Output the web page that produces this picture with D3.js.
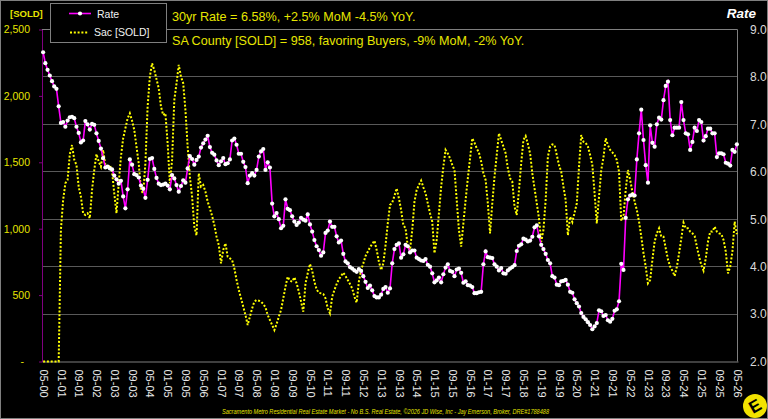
<!DOCTYPE html>
<html>
<head>
<meta charset="utf-8">
<style>
  html, body { margin: 0; padding: 0; background: #000; }
  svg { display: block; font-family: "Liberation Sans", Arial, sans-serif; }
</style>
</head>
<body>
<svg id="chart" width="768" height="419"></svg>
<script src="https://cdn.jsdelivr.net/npm/d3@7/dist/d3.min.js"></script>
<script>
  // 30yr rate, monthly, 05-00 .. 05-26
  const rate = [
    8.52, 8.29, 8.15, 8.03, 7.91, 7.80, 7.75, 7.38,
    7.03, 7.05, 6.95, 7.08, 7.15, 7.16, 7.13, 6.95, 6.82, 6.62, 6.66, 7.07,
    7.00, 6.89, 7.01, 6.99, 6.81, 6.65, 6.49, 6.29, 6.09, 6.11, 6.07, 6.05,
    5.92, 5.84, 5.75, 5.81, 5.48, 5.23, 5.63, 6.26, 6.15, 5.95, 5.93, 5.88,
    5.71, 5.64, 5.45, 5.83, 6.27, 6.29, 6.06, 5.87, 5.75, 5.72, 5.73, 5.75,
    5.71, 5.63, 5.93, 5.86, 5.72, 5.58, 5.70, 5.82, 5.77, 6.07, 6.33, 6.27,
    6.15, 6.25, 6.32, 6.51, 6.60, 6.68, 6.76, 6.52, 6.40, 6.36, 6.24, 6.14,
    6.22, 6.29, 6.16, 6.18, 6.26, 6.66, 6.70, 6.57, 6.38, 6.38, 6.21, 6.10,
    5.76, 5.92, 5.97, 5.92, 6.04, 6.32, 6.43, 6.48, 6.04, 6.20, 6.09, 5.33,
    5.06, 5.13, 5.00, 4.81, 4.86, 5.42, 5.22, 5.19, 5.06, 4.95, 4.88, 4.93,
    5.03, 4.99, 4.97, 5.10, 4.89, 4.74, 4.56, 4.43, 4.35, 4.23, 4.30, 4.71,
    4.76, 4.95, 4.84, 4.84, 4.64, 4.51, 4.55, 4.27, 4.11, 4.07, 3.99, 3.96,
    3.92, 3.89, 3.95, 3.91, 3.80, 3.68, 3.55, 3.60, 3.50, 3.38, 3.35, 3.35,
    3.41, 3.53, 3.57, 3.45, 3.54, 4.07, 4.37, 4.46, 4.49, 4.19, 4.26, 4.46,
    4.43, 4.30, 4.34, 4.34, 4.19, 4.16, 4.13, 4.12, 4.16, 4.04, 4.00, 3.86,
    3.67, 3.71, 3.77, 3.67, 3.84, 3.98, 4.05, 3.91, 3.89, 3.80, 3.94, 3.96,
    3.87, 3.66, 3.69, 3.61, 3.60, 3.57, 3.44, 3.44, 3.46, 3.47, 4.05, 4.32,
    4.20, 4.19, 4.18, 4.05, 4.00, 3.92, 3.97, 3.86, 3.85, 3.92, 3.96, 3.99,
    4.03, 4.33, 4.44, 4.47, 4.59, 4.57, 4.53, 4.55, 4.63, 4.83, 4.87, 4.64,
    4.46, 4.37, 4.27, 4.14, 4.07, 3.80, 3.77, 3.62, 3.61, 3.69, 3.70, 3.72,
    3.62, 3.47, 3.45, 3.31, 3.23, 3.16, 3.02, 2.94, 2.89, 2.83, 2.77, 2.68,
    2.74, 2.81, 3.08, 3.06, 2.96, 2.98, 2.87, 2.84, 2.90, 3.07, 3.10, 3.27,
    4.06, 3.93, 5.03, 5.42, 5.50, 5.52, 5.50, 6.26, 6.81, 7.31, 6.67, 6.14,
    5.77, 6.98, 6.61, 6.53, 7.00, 7.14, 7.10, 7.51, 7.81, 7.90, 7.09, 6.77,
    6.93, 6.93, 6.93, 7.47, 7.09, 6.81, 6.79, 6.46, 6.63, 6.93, 6.86, 7.09,
    7.05, 6.66, 6.75, 6.91, 6.91, 6.81, 6.81, 6.31, 6.39, 6.39, 6.37, 6.19,
    6.17, 6.13, 6.46, 6.42, 6.58
  ];

  // Sacramento County homes sold, monthly, 05-00 .. 05-26
  const sold = [
    0, 0, 0, 0, 0, 0, 0, 0,
    990, 1216, 1342, 1367, 1560, 1630, 1520, 1480, 1316, 1241, 1116, 1103,
    1116, 1078, 1291, 1442, 1562, 1505, 1467, 1593, 1480, 1455, 1480, 1430,
    1266, 1116, 1342, 1542, 1680, 1756, 1831, 1869, 1813, 1743, 1618, 1492,
    1291, 1266, 1492, 1919, 2145, 2245, 2195, 2125, 2057, 1919, 1856, 1869,
    1643, 1342, 1517, 1969, 2095, 2233, 2145, 2095, 1894, 1618, 1392, 1241,
    1015, 950, 1417, 1316, 1329, 1279, 1204, 1153, 1096, 1028, 940, 877,
    739, 840, 890, 789, 777, 764, 701, 614, 538, 476, 413, 350,
    275, 338, 400, 451, 463, 458, 451, 433, 408, 350, 312, 275,
    237, 282, 338, 388, 476, 563, 639, 609, 601, 634, 589, 526,
    451, 375, 589, 664, 734, 684, 601, 543, 518, 513, 508, 476,
    400, 363, 488, 538, 583, 619, 644, 669, 644, 614, 583, 551,
    488, 443, 601, 689, 739, 794, 827, 860, 885, 910, 840, 752,
    689, 739, 877, 1040, 1178, 1196, 1246, 1304, 1229, 1141, 1028, 1003,
    865, 840, 990, 1204, 1291, 1329, 1362, 1312, 1266, 1191, 1116, 1053,
    815, 915, 1116, 1316, 1467, 1593, 1567, 1530, 1480, 1442, 1216, 990,
    865, 1040, 1216, 1379, 1530, 1680, 1648, 1605, 1572, 1505, 1417, 1367,
    1191, 965, 1191, 1392, 1555, 1718, 1668, 1618, 1568, 1455, 1379, 1354,
    1166, 1103, 1291, 1492, 1668, 1698, 1638, 1567, 1417, 1304, 1191, 1078,
    902, 990, 1216, 1542, 1618, 1635, 1630, 1555, 1480, 1429, 1316, 1216,
    950, 1090, 1050, 1120, 1191, 1467, 1705, 1655, 1648, 1618, 1555, 1480,
    1266, 1040, 1241, 1442, 1537, 1680, 1630, 1593, 1575, 1555, 1517, 1429,
    1060, 1090, 1291, 1442, 1367, 1279, 1204, 1141, 1053, 940, 815, 714,
    589, 614, 764, 902, 965, 1003, 940, 940, 852, 769, 714, 684,
    644, 714, 815, 927, 1045, 1003, 1003, 978, 965, 945, 865, 790,
    727, 684, 777, 902, 978, 978, 1015, 978, 965, 960, 915, 827,
    664, 714, 830, 1053, 958
  ];

  const tickLabels = ['05-00','01-01','09-01','05-02','01-03','09-03','05-04','01-05','09-05','05-06',
    '01-07','09-07','05-08','01-09','09-09','05-10','01-11','09-11','05-12','01-13',
    '09-13','05-14','01-15','09-15','05-16','01-17','09-17','05-18','01-19','09-19',
    '05-20','01-21','09-21','05-22','01-23','09-23','05-24','01-25','09-25','05-26'];
  const soldTicks = [0, 500, 1000, 1500, 2000, 2500];
  const rateTicks = [2, 3, 4, 5, 6, 7, 8, 9];

  // month categories MM-YY starting at May 2000
  const months = rate.map((d, i) => {
    const m = (4 + i) % 12 + 1, y = Math.floor((4 + i) / 12);
    return String(m).padStart(2, '0') + '-' + String(y).padStart(2, '0');
  });

  const yellow = '#ffff00';
  const textYellow = '#e6e600';

  const svg = d3.select('#chart');
  const plotLeft = 42, plotRight = 738, plotTop = 29.5, plotBottom = 361.5;

  const x = d3.scalePoint().domain(months).range([plotLeft, plotRight]).padding(0.5);
  const ySold = d3.scaleLinear().domain([0, 2500]).range([plotBottom, plotTop]);
  const yRate = d3.scaleLinear().domain([2, 9]).range([plotBottom, plotTop]);

  // outer frame
  svg.append('rect')
    .attr('x', 0.5).attr('y', 0.5).attr('width', 767).attr('height', 418)
    .attr('fill', '#000').attr('stroke', '#7f7f7f');

  // gridlines
  svg.append('g').selectAll('line')
    .data(rateTicks.slice(1, -1))
    .join('line')
    .attr('x1', plotLeft).attr('x2', plotRight)
    .attr('y1', d => Math.floor(yRate(d)) + 0.5)
    .attr('y2', d => Math.floor(yRate(d)) + 0.5)
    .attr('stroke', '#595959').attr('stroke-width', 1);

  // plot border (top + right)
  svg.append('path')
    .attr('d', `M${plotLeft},${plotTop}H${plotRight - 0.5}V${plotBottom}`)
    .attr('fill', 'none').attr('stroke', '#7f7f7f');

  // bottom axis
  const xAxis = d3.axisBottom(x).tickValues(tickLabels).tickSize(0).tickSizeOuter(0);
  const gx = svg.append('g').attr('transform', `translate(0,${plotBottom})`).call(xAxis);
  gx.select('.domain').attr('stroke', '#7f7f7f');
  gx.selectAll('text')
    .attr('transform', 'rotate(90)')
    .attr('x', 8).attr('y', 0).attr('dy', '0.35em')
    .style('text-anchor', 'start')
    .attr('fill', '#e8e8e8')
    .attr('font-size', 11)
    .attr('font-family', '"Liberation Sans", Arial, sans-serif');

  // left axis (sold)
  const yAxisL = d3.axisLeft(ySold).tickValues(soldTicks).tickSize(3).tickSizeOuter(0).tickPadding(9)
    .tickFormat(d => d === 0 ? '-' : d3.format(',')(d));
  const gl = svg.append('g').attr('transform', `translate(${plotLeft},0)`).call(yAxisL);
  gl.select('.domain').attr('stroke', '#800080');
  gl.selectAll('.tick line').attr('stroke', '#800080');
  gl.selectAll('text')
    .attr('fill', textYellow).attr('font-size', 10.5)
    .attr('font-family', '"Liberation Sans", Arial, sans-serif')
    .attr('dx', d => d === 0 ? -6 : 0);

  // right axis (rate)
  const yAxisR = d3.axisRight(yRate).tickValues(rateTicks).tickSize(0).tickPadding(12)
    .tickFormat(d3.format('.1f'));
  const gr = svg.append('g').attr('transform', `translate(${plotRight},0)`).call(yAxisR);
  gr.select('.domain').remove();
  gr.selectAll('text')
    .attr('fill', '#d9d9d9').attr('font-size', 12)
    .attr('font-family', '"Liberation Sans", Arial, sans-serif');

  // sold series, dotted yellow
  const soldLine = d3.line().x((d, i) => x(months[i])).y(d => ySold(d));
  svg.append('path')
    .datum(sold)
    .attr('d', soldLine)
    .attr('fill', 'none')
    .attr('stroke', yellow)
    .attr('stroke-width', 2)
    .attr('stroke-dasharray', '2,1.8');

  // rate series, magenta with white markers
  const rateLine = d3.line().x((d, i) => x(months[i])).y(d => yRate(d));
  svg.append('path')
    .datum(rate)
    .attr('d', rateLine)
    .attr('fill', 'none')
    .attr('stroke', '#ff00ff')
    .attr('stroke-width', 1.6);

  svg.append('g').selectAll('circle')
    .data(rate)
    .join('circle')
    .attr('cx', (d, i) => x(months[i]))
    .attr('cy', d => yRate(d))
    .attr('r', 2.1)
    .attr('fill', '#ffffff');

  // legend
  const lg = svg.append('g');
  lg.append('rect')
    .attr('x', 50.5).attr('y', 3.5).attr('width', 116).attr('height', 39)
    .attr('fill', '#000').attr('stroke', '#7f7f7f');
  lg.append('line')
    .attr('x1', 69).attr('x2', 91).attr('y1', 13.5).attr('y2', 13.5)
    .attr('stroke', '#ff00ff').attr('stroke-width', 1.6);
  lg.append('circle').attr('cx', 80).attr('cy', 13.5).attr('r', 2.1).attr('fill', '#fff');
  lg.append('line')
    .attr('x1', 70).attr('x2', 89).attr('y1', 32.5).attr('y2', 32.5)
    .attr('stroke', yellow).attr('stroke-width', 2).attr('stroke-dasharray', '2,1.8');
  lg.append('text').attr('x', 97).attr('y', 17.5).text('Rate')
    .attr('fill', '#f2f2f2').attr('font-size', 10.5);
  lg.append('text').attr('x', 94).attr('y', 35.5).text('Sac [SOLD]')
    .attr('fill', '#f2f2f2').attr('font-size', 10.5);

  // headings
  svg.append('text').attr('x', 10).attr('y', 16.5).text('[SOLD]')
    .attr('fill', textYellow).attr('font-size', 9.5).attr('font-weight', 'bold');
  svg.append('text').attr('x', 756).attr('y', 18).text('Rate')
    .attr('text-anchor', 'end')
    .attr('fill', '#ffffff').attr('font-size', 13.5)
    .attr('font-weight', 'bold').attr('font-style', 'italic');

  svg.append('text').attr('x', 172).attr('y', 20.5)
    .text('30yr Rate = 6.58%, +2.5% MoM -4.5% YoY.')
    .attr('fill', textYellow).attr('font-size', 12.6);
  svg.append('text').attr('x', 172).attr('y', 45)
    .text('SA County [SOLD] = 958, favoring Buyers, -9% MoM, -2% YoY.')
    .attr('fill', textYellow).attr('font-size', 12.6);

  // footer
  svg.append('text').attr('x', 222).attr('y', 413.5)
    .text('Sacramento Metro Residential Real Estate Market - No B.S. Real Estate, \u00a92026 JD Wise, Inc - Jay Emerson, Broker, DRE#1788488')
    .attr('fill', textYellow).attr('font-size', 6.5).attr('font-style', 'italic')
    .attr('textLength', 327).attr('lengthAdjust', 'spacingAndGlyphs');

  // logo
  svg.append('circle').attr('cx', 755).attr('cy', 406).attr('r', 12).attr('fill', '#f2e200');
  svg.append('text').attr('x', 755).attr('y', 412)
    .attr('text-anchor', 'middle')
    .attr('transform', 'rotate(-30,755,406)')
    .attr('fill', '#000').attr('font-size', 17).attr('font-weight', 'bold')
    .text('E');
</script>
</body>
</html>
